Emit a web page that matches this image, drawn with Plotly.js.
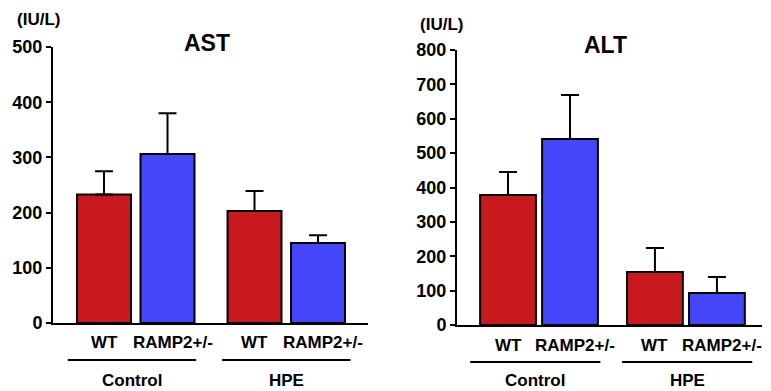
<!DOCTYPE html>
<html><head><meta charset="utf-8">
<script src="https://cdn.plot.ly/plotly-3.0.1.min.js"></script>
<style>html,body{margin:0;padding:0;background:#fff}#c{width:771px;height:391px}</style>
</head><body><div id="c"></div>
<script>
var groups = ['Control', 'HPE'];
var genotypes = ['WT', 'RAMP2+/-'];
var astMean = [233, 306, 203, 145];
var astErr = [42, 74, 36, 14];
var altMean = [378, 541, 154, 93];
var altErr = [67, 128, 70, 47];
var astTicks = [0, 100, 200, 300, 400, 500];
var altTicks = [0, 100, 200, 300, 400, 500, 600, 700, 800];

var pos = [0, 1, 2.37, 3.37];
var RED = '#C8191E', BLUE = '#4545FA';
var colors = [RED, BLUE, RED, BLUE];
var FONT = 'Liberation Sans, Arial, Helvetica, sans-serif';

function b(s) { return '<b>' + s + '</b>'; }

function barTrace(y, err, xa, ya, w) {
  return {
    type: 'bar', x: pos, y: y, xaxis: xa, yaxis: ya, width: w,
    marker: {color: colors, line: {color: '#000', width: 2}},
    error_y: {type: 'data', symmetric: false, array: err, arrayminus: err.map(function(){return 0;}),
      color: '#000', thickness: 2, width: 9},
    hoverinfo: 'none'
  };
}

var data = [barTrace(astMean, astErr, 'x', 'y', 0.85), barTrace(altMean, altErr, 'x2', 'y2', 0.9)];

function yax(domain, range, ticks) {
  return {domain: domain, range: range, tickvals: ticks, ticktext: ticks.map(function(t){return b(String(t));}),
    showgrid: false, zeroline: false,
    showline: true, linecolor: '#000', linewidth: 2, ticks: 'outside', ticklen: 5, tickwidth: 2,
    tickcolor: '#000', tickfont: {family: FONT, size: 18, color: '#000'}, fixedrange: true};
}
function xax(domain, range, anchor) {
  return {domain: domain, range: range, anchor: anchor, showgrid: false, zeroline: false,
    showline: true, linecolor: '#000', linewidth: 2, showticklabels: false, ticks: '', fixedrange: true};
}

var annotations = [];
var shapes = [];
function labels(xref, wtY, grpY, lineY, half, centers) {
  var f = {family: FONT, size: 17, color: '#000'};
  pos.forEach(function(p, i) {
    annotations.push({xref: xref, yref: 'paper', x: p, y: wtY, text: b(genotypes[i % 2]), showarrow: false,
      font: f, xanchor: 'center', yanchor: 'middle', xshift: (i % 2) ? 5 : 0});
  });
  groups.forEach(function(g, j) {
    annotations.push({xref: xref, yref: 'paper', x: centers[j], y: grpY, text: b(g), showarrow: false,
      font: f, xanchor: 'center', yanchor: 'middle'});
    shapes.push({type: 'line', xref: xref, yref: 'paper', x0: centers[j] - half, x1: centers[j] + half,
      y0: lineY, y1: lineY, line: {color: '#000', width: 2}});
  });
}
labels('x', 0.1228, 0.028, 0.0793, 1.01, [0.44, 2.87]);
labels('x2', 0.1176, 0.028, 0.0742, 1.05, [0.44, 2.89]);

var tf = {family: FONT, size: 23, color: '#000'};
var uf = {family: FONT, size: 17, color: '#000'};
annotations.push({xref: 'paper', yref: 'paper', x: 207/771, y: 1 - 43/391, text: b('AST'), showarrow: false, font: tf, xanchor: 'center', yanchor: 'middle'});
annotations.push({xref: 'paper', yref: 'paper', x: 605/771, y: 1 - 45/391, text: b('ALT'), showarrow: false, font: tf, xanchor: 'center', yanchor: 'middle'});
annotations.push({xref: 'paper', yref: 'paper', x: 38/771, y: 1 - 20/391, text: b('(IU/L)'), showarrow: false, font: uf, xanchor: 'center', yanchor: 'middle'});
annotations.push({xref: 'paper', yref: 'paper', x: 442/771, y: 1 - 25/391, text: b('(IU/L)'), showarrow: false, font: uf, xanchor: 'center', yanchor: 'middle'});

var layout = {
  width: 771, height: 391, margin: {l: 0, r: 0, t: 0, b: 0},
  paper_bgcolor: '#fff', plot_bgcolor: '#fff', showlegend: false,
  xaxis: xax([53/771, 368/771], [-0.803, 4.157], 'y'),
  yaxis: yax([(391-323)/391, (391-47)/391], [0, 500], astTicks),
  xaxis2: xax([457/771, 762/771], [-0.823, 4.097], 'y2'),
  yaxis2: yax([(391-325)/391, (391-50)/391], [0, 800], altTicks),
  annotations: annotations, shapes: shapes
};
layout.yaxis.anchor = 'x';
layout.yaxis2.anchor = 'x2';

Plotly.newPlot('c', data, layout, {displayModeBar: false, staticPlot: true});
</script></body></html>
